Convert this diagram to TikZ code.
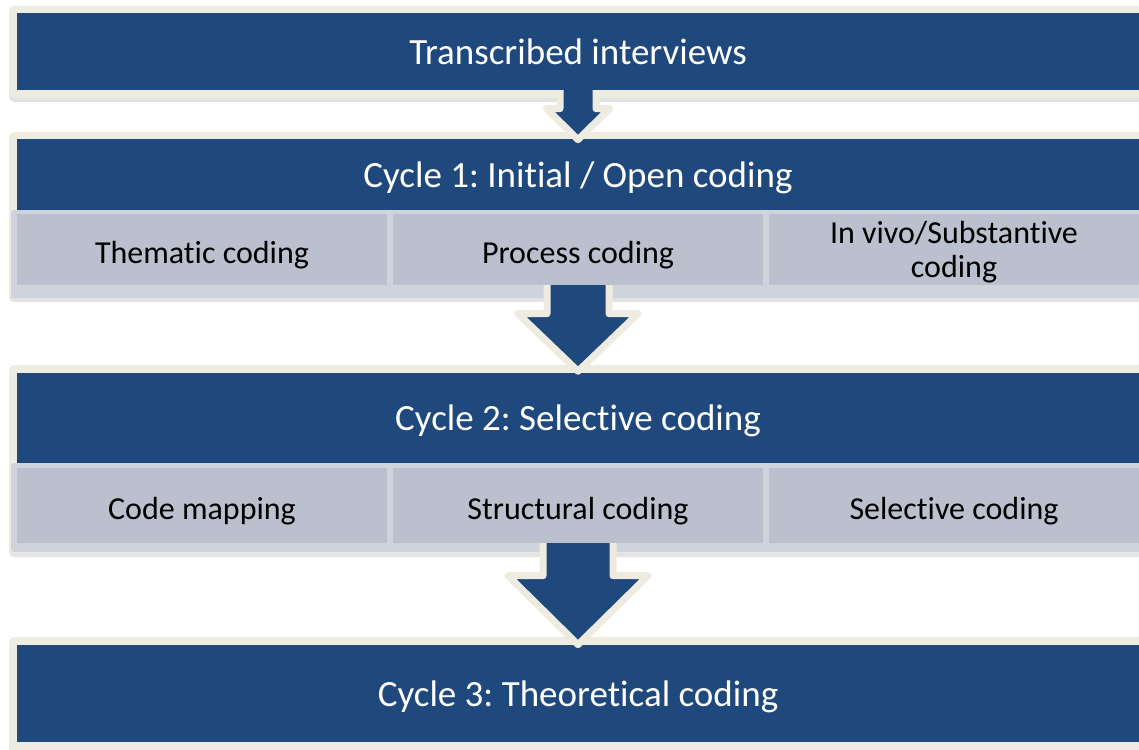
\documentclass[tikz,border=0pt]{standalone}
\usepackage{fontspec}
\setmainfont{Carlito}[RawFeature=-liga]
\frenchspacing
\usetikzlibrary{shadows,calc}

\definecolor{cycleblue}{RGB}{31,73,125}
\definecolor{framebeige}{RGB}{238,236,225}
\definecolor{subgray}{RGB}{186,192,205}
\definecolor{subrimgray}{RGB}{207,211,220}

\begin{document}
\begin{tikzpicture}[x=1pt,y=-1pt,
    frame/.style ={fill=framebeige, rounded corners=5pt, inner sep=0pt,
      drop shadow={shadow xshift=0pt, shadow yshift=-4pt, opacity=0.22}},
    header/.style ={fill=cycleblue, text=white, inner sep=0pt, text depth=0pt,
      font=\fontsize{37}{40}\selectfont},
    subrim/.style ={fill=subrimgray, rounded corners=3pt, inner sep=0pt},
    subbox/.style ={fill=subgray, inner sep=0pt, align=center, minimum width=370pt,
      text height=28pt, text depth=0pt, font=\fontsize{32}{34}\selectfont},
    blockarrow/.style ={fill=cycleblue, draw=framebeige, line width=7pt, line join=round,
      drop shadow={shadow xshift=0pt, shadow yshift=-3pt, opacity=0.15}}]
   \useasboundingbox (0,0) rectangle (1139,749);

   % interviews
   \node[frame, minimum width=1138pt, minimum height=92pt] (f0) at (578,52) {};
   \node[header, minimum width=1122pt, minimum height=77pt] (trans) at (578,51.5) {Transcribed interviews};

   % cycle 1
   \node[frame, minimum width=1138pt, minimum height=166pt] (f1) at (578,215) {};
   \node[header, minimum width=1122pt, minimum height=71pt] (cyc1) at (578,174.5) {Cycle 1: Initial / Open coding};
   \node[subrim, minimum width=1136pt, minimum height=88pt] (r1) at (579,254) {};
   \node[subbox, minimum height=71pt] (thematic) at (202,249.5) {Thematic coding};
   \node[subbox, minimum height=71pt] (process) at (578,249.5) {Process coding};
   \node[subbox, minimum height=71pt, text height={}, text depth=-6pt] (invivo) at (954,249.5) {In vivo/Substantive\\coding};

   % cycle 2
   \node[frame, minimum width=1138pt, minimum height=188pt] (f2) at (578,459) {};
   \node[header, minimum width=1122pt, minimum height=90pt] (cyc2) at (578,418) {Cycle 2: Selective coding};
   \node[subrim, minimum width=1136pt, minimum height=89pt] (r2) at (579,507.5) {};
   \node[subbox, minimum height=75pt] (mapping) at (202,505.5) {Code mapping};
   \node[subbox, minimum height=75pt] (structural) at (578,505.5) {Structural coding};
   \node[subbox, minimum height=75pt] (selective) at (954,505.5) {Selective coding};

   % cycle 3
   \node[frame, minimum width=1138pt, minimum height=115pt] (f3) at (578,694.5) {};
   \node[header, minimum width=1122pt, minimum height=97pt] (cyc3) at (578,693.5) {Cycle 3: Theoretical coding};

   % arrows between the stages
   \path[blockarrow] ($(trans.south)+(-18,0)$) -- ++(0,18.5) -- ++(-13.5,0) -- ++(31.5,31)
      -- ++(31.5,-31) -- ++(-13.5,0) -- ++(0,-18.5);
   \path[blockarrow] ($(process.south)+(-31,0)$) -- ++(0,28.5) -- ++(-29,0) -- ++(60,57.5)
      -- ++(60,-57.5) -- ++(-29,0) -- ++(0,-28.5);
   \path[blockarrow] ($(structural.south)+(-35,0)$) -- ++(0,32.5) -- ++(-35,0) -- ++(70,69)
      -- ++(70,-69) -- ++(-35,0) -- ++(0,-32.5);
\end{tikzpicture}
\end{document}
